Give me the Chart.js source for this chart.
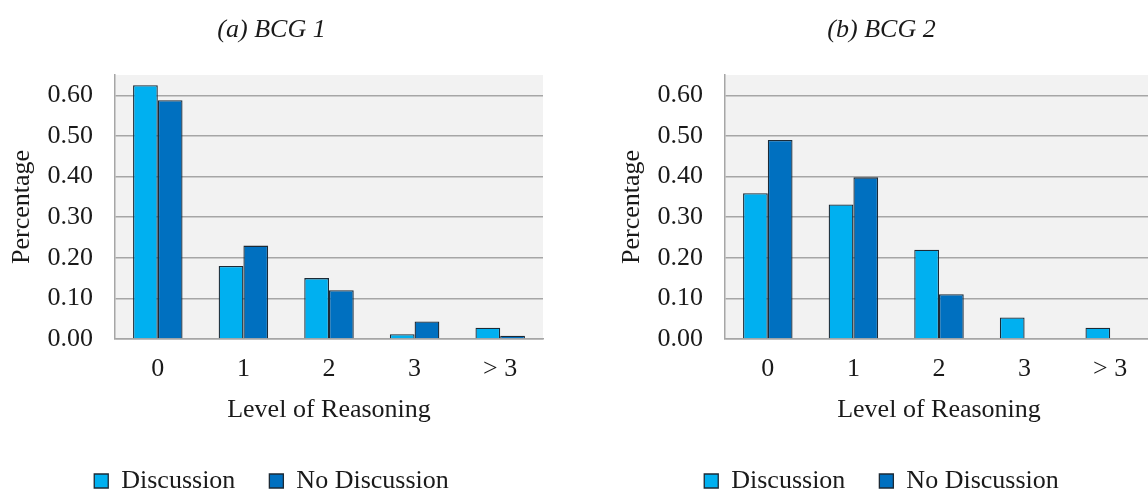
<!DOCTYPE html>
<html>
<head>
<meta charset="utf-8">
<script src="https://cdn.jsdelivr.net/npm/chart.js@4/dist/chart.umd.min.js"></script>
<style>
    html, body { margin: 0; padding: 0; background: #fff; overflow: hidden; width: 1148px; height: 493px; }
    .panel { position: absolute; top: 0; width: 574px; height: 504px; }
    #panelA { left: 0; }
    #panelB { left: 610px; }
</style>
</head>
<body>
<div class="panel" id="panelA"><canvas id="chartA" width="574" height="504"></canvas></div>
<div class="panel" id="panelB"><canvas id="chartB" width="574" height="504"></canvas></div>
<script>
// Level of reasoning categories
const levels = ['0', '1', '2', '3', '> 3'];

// (a) BCG 1
const discussionBCG1 = [0.625, 0.18, 0.15, 0.012, 0.028];
const noDiscussionBCG1 = [0.588, 0.23, 0.12, 0.043, 0.008];

// (b) BCG 2
const discussionBCG2 = [0.359, 0.331, 0.22, 0.053, 0.028];
const noDiscussionBCG2 = [0.49, 0.398, 0.11, 0, 0];

// y axis ticks
const yTicks = [0, 0.1, 0.2, 0.3, 0.4, 0.5, 0.6];

const FONT = '"Liberation Serif", "Times New Roman", serif';
const TEXT = '#1a1a1a';
const GRID = '#a6a6a6';

// gray plot background, like the spreadsheet chart
const plotBackground = {
    id: 'plotBackground',
    beforeDraw(chart) {
        const { ctx, chartArea: a } = chart;
        ctx.save();
        ctx.fillStyle = '#f2f2f2';
        ctx.fillRect(a.left, a.top, a.right - a.left, a.bottom - a.top);
        ctx.restore();
    }
};

function makeChart(id, title, discussion, noDiscussion) {
    const ctx = document.getElementById(id).getContext('2d');
    return new Chart(ctx, {
        type: 'bar',
        data: {
            labels: levels,
            datasets: [
                {
                    label: 'Discussion',
                    data: discussion,
                    backgroundColor: '#00b0f0',
                    borderColor: '#1c2a36',
                    borderWidth: 1.3
                },
                {
                    label: 'No Discussion',
                    data: noDiscussion,
                    backgroundColor: '#0070c0',
                    borderColor: '#1c2a36',
                    borderWidth: 1.3
                }
            ]
        },
        options: {
            responsive: false,
            animation: false,
            categoryPercentage: 0.578,
            barPercentage: 1,
            layout: { padding: { left: 0, right: 31, top: 0, bottom: 0 } },
            plugins: {
                title: {
                    display: true,
                    text: title,
                    color: TEXT,
                    font: { family: FONT, size: 26, style: 'italic', weight: 'normal' },
                    padding: { top: 14.4, bottom: 29.4 }
                },
                legend: {
                    position: 'bottom',
                    labels: {
                        color: TEXT,
                        font: { family: FONT, size: 26 },
                        boxWidth: 14,
                        boxHeight: 14,
                        padding: 34
                    }
                },
                tooltip: { enabled: false }
            },
            scales: {
                x: {
                    grid: { display: false, drawTicks: false },
                    border: { display: true, color: GRID, width: 1.5 },
                    ticks: { color: TEXT, font: { family: FONT, size: 26 }, padding: 15 },
                    title: {
                        display: true,
                        text: 'Level of Reasoning',
                        color: TEXT,
                        font: { family: FONT, size: 26 },
                        padding: { top: 8, bottom: 8 }
                    },
                    afterFit(scale) { scale.height = 95; }
                },
                y: {
                    min: 0,
                    max: 0.65,
                    grid: { color: GRID, lineWidth: 1.5, drawTicks: false },
                    border: { display: true, color: GRID, width: 1.5 },
                    ticks: {
                        color: TEXT,
                        font: { family: FONT, size: 26 },
                        padding: 22,
                        callback: v => v.toFixed(2)
                    },
                    afterBuildTicks(scale) {
                        scale.ticks = yTicks.map(v => ({ value: v }));
                    },
                    title: {
                        display: true,
                        text: 'Percentage',
                        color: TEXT,
                        font: { family: FONT, size: 26 },
                        padding: { top: 7, bottom: 0 }
                    },
                    afterFit(scale) { scale.width = 115; }
                }
            }
        },
        plugins: [plotBackground]
    });
}

makeChart('chartA', '(a) BCG 1', discussionBCG1, noDiscussionBCG1);
makeChart('chartB', '(b) BCG 2', discussionBCG2, noDiscussionBCG2);
</script>
</body>
</html>
